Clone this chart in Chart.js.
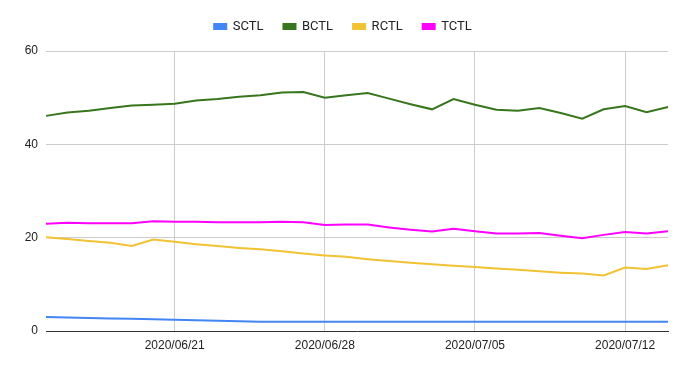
<!DOCTYPE html>
<html>
<head>
<meta charset="utf-8">
<script src="https://cdn.jsdelivr.net/npm/chart.js@4"></script>
<style>
  html, body { margin: 0; padding: 0; background: #fff; }
  #wrap { width: 686px; height: 369px; }
</style>
</head>
<body>
<div id="wrap"><canvas id="ctl"></canvas></div>
<script>
const dates = [
  '2020/06/15', '2020/06/16', '2020/06/17', '2020/06/18', '2020/06/19', '2020/06/20',
  '2020/06/21', '2020/06/22', '2020/06/23', '2020/06/24', '2020/06/25', '2020/06/26',
  '2020/06/27', '2020/06/28', '2020/06/29', '2020/06/30', '2020/07/01', '2020/07/02',
  '2020/07/03', '2020/07/04', '2020/07/05', '2020/07/06', '2020/07/07', '2020/07/08',
  '2020/07/09', '2020/07/10', '2020/07/11', '2020/07/12', '2020/07/13', '2020/07/14'
];
const shownDates = ['2020/06/21', '2020/06/28', '2020/07/05', '2020/07/12'];
const yTicks = [0, 20, 40, 60];

const sctl = [3.0, 2.9, 2.8, 2.7, 2.6, 2.5, 2.4, 2.3, 2.2, 2.1, 2.0, 2.0, 2.0, 2.0, 2.0,
  2.0, 2.0, 2.0, 2.0, 2.0, 2.0, 2.0, 2.0, 2.0, 2.0, 2.0, 2.0, 2.0, 2.0, 2.0];
const bctl = [46.1, 46.8, 47.2, 47.8, 48.3, 48.5, 48.7, 49.4, 49.7, 50.2, 50.5, 51.1, 51.2, 50.0, 50.5,
  51.0, 49.8, 48.6, 47.5, 49.7, 48.5, 47.4, 47.2, 47.8, 46.7, 45.5, 47.5, 48.2, 46.9, 48.0];
const rctl = [20.1, 19.7, 19.3, 18.9, 18.2, 19.6, 19.1, 18.6, 18.2, 17.8, 17.5, 17.1, 16.6, 16.2, 15.9,
  15.4, 15.0, 14.6, 14.3, 14.0, 13.7, 13.4, 13.1, 12.8, 12.5, 12.3, 11.9, 13.6, 13.3, 14.1];
const tctl = [23.0, 23.2, 23.1, 23.1, 23.1, 23.5, 23.4, 23.4, 23.3, 23.3, 23.3, 23.4, 23.3, 22.7, 22.8,
  22.8, 22.2, 21.7, 21.3, 21.9, 21.4, 20.9, 20.9, 21.0, 20.4, 19.9, 20.6, 21.2, 20.9, 21.4];

const line = (label, data, color) => ({
  label: label,
  data: data,
  borderColor: color,
  backgroundColor: color,
  borderWidth: 2,
  pointRadius: 0,
  tension: 0,
});

// the legend box height is fixed so the plot starts where the reference does
const legendHeight = {
  id: 'legendHeight',
  beforeInit(chart) {
    const fit = chart.legend.fit;
    chart.legend.fit = function () {
      fit.bind(chart.legend)();
      this.height = 51;
    };
  }
};

const ctx = document.getElementById('ctl').getContext('2d');

const chartCtl = new Chart(ctx, {
  type: 'line',
  data: {
    labels: dates,
    datasets: [
      line('SCTL', sctl, '#4285F4'),
      line('BCTL', bctl, '#38761D'),
      line('RCTL', rctl, '#F1C232'),
      line('TCTL', tctl, '#FF00FF'),
    ]
  },
  plugins: [legendHeight],
  options: {
    responsive: true,
    maintainAspectRatio: false,
    animation: false,
    layout: { padding: 0 },
    plugins: {
      legend: {
        display: true,
        position: 'top',
        labels: {
          boxWidth: 12,
          boxHeight: 5,
          padding: 20,
          color: '#222',
          font: { family: 'Roboto, Arial, sans-serif', size: 13 }
        }
      },
      tooltip: { enabled: false }
    },
    scales: {
      x: {
        afterFit: (scale) => { scale.height = 38; },
        ticks: {
          autoSkip: false,
          maxRotation: 0,
          color: '#222',
          padding: 7,
          font: { family: 'Arial, "Liberation Sans", sans-serif', size: 12 },
          callback: function (value, index) {
            const lbl = this.getLabelForValue(value);
            return shownDates.includes(lbl) ? lbl : '';
          }
        },
        grid: {
          drawTicks: false,
          color: (c) => shownDates.includes(dates[c.index]) ? '#cccccc' : 'rgba(0,0,0,0)',
        },
        border: { display: true, color: '#333', width: 1 }
      },
      y: {
        min: 0,
        max: 60,
        afterFit: (scale) => { scale.width = 46; },
        afterBuildTicks: (scale) => { scale.ticks = yTicks.map(v => ({ value: v })); },
        ticks: {
          color: '#222',
          padding: 8,
          font: { family: 'Arial, "Liberation Sans", sans-serif', size: 12 }
        },
        grid: {
          drawTicks: false,
          color: (c) => c.tick && c.tick.value === 0 ? 'rgba(0,0,0,0)' : '#cccccc'
        },
        border: { display: false }
      },
      // empty strip on the right, keeps the legend centred on the whole canvas
      spacer: {
        position: 'right',
        min: 0,
        max: 60,
        afterFit: (scale) => { scale.width = 18; },
        ticks: { display: false },
        grid: { display: false },
        border: { display: false }
      }
    }
  }
});
</script>
</body>
</html>
